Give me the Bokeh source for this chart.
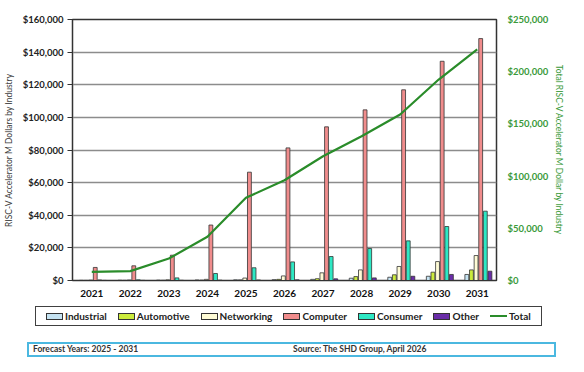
from bokeh.plotting import figure
from bokeh.models import (Range1d, LinearAxis, FactorRange, NumeralTickFormatter,
                          FixedTicker, Div)
from bokeh.transform import dodge
from bokeh.layouts import column
from bokeh.embed import file_html
from bokeh.resources import INLINE

# ---------------- data ----------------
years = ["2021", "2022", "2023", "2024", "2025", "2026", "2027", "2028", "2029", "2030", "2031"]
industrial = [100, 150, 200, 300, 400, 500, 700, 1400, 2000, 2600, 3700]
automotive = [50, 80, 120, 200, 350, 700, 1100, 2400, 3500, 5100, 6500]
networking = [200, 250, 400, 700, 1500, 2800, 4700, 6500, 8600, 11600, 15300]
computer = [8000, 9000, 15500, 34000, 66400, 81300, 94200, 104600, 116900, 134400, 148300]
consumer = [300, 400, 1600, 4300, 7800, 11400, 14700, 19600, 24300, 33100, 42500]
other = [50, 80, 120, 200, 300, 400, 1000, 1600, 2600, 3700, 5700]
total = [8300, 9000, 21000, 41900, 79200, 96000, 119000, 138200, 159000, 192500, 221300]

series_names = ["Industrial", "Automotive", "Networking", "Computer", "Consumer", "Other"]
total_name = "Total"
left_ticks = [0, 20000, 40000, 60000, 80000, 100000, 120000, 140000, 160000]
right_ticks = [0, 50000, 100000, 150000, 200000, 250000]
footer_left = "Forecast Years: 2025 - 2031"
footer_right = "Source: The SHD Group, April 2026"

# ---------------- styles ----------------
colors = ["#C5E3F2", "#CCEB3C", "#FFFCD6", "#F08C8C", "#2EE8C4", "#6A2DA8"]
offsets = [-0.27, -0.15, -0.03, 0.09, 0.21, 0.33]
green = "#2A8C2A"
font = "Lato"

data = dict(years=years, Industrial=industrial, Automotive=automotive,
            Networking=networking, Computer=computer, Consumer=consumer,
            Other=other, total=total)

p = figure(x_range=FactorRange(*years), y_range=Range1d(0, 160000),
           width=575, height=302, output_backend="svg", toolbar_location=None,
           min_border_left=71, min_border_right=79, min_border_top=19,
           min_border_bottom=22)
p.extra_y_ranges = {"total": Range1d(0, 250000)}

p.outline_line_color = "#333333"
p.outline_line_width = 1.5
p.xgrid.visible = False
p.ygrid.grid_line_color = "#8C8C8C"
p.ygrid.grid_line_width = 1.5

# left axis
ya = p.yaxis[0]
ya.ticker = FixedTicker(ticks=left_ticks)
ya.formatter = NumeralTickFormatter(format="$0,0")
ya.axis_label = "RISC-V Accelerator M Dollars by Industry"
ya.axis_label_text_font = font
ya.axis_label_text_font_style = "normal"
ya.axis_label_text_font_size = "8.5px"
ya.axis_label_text_color = "#404040"
ya.axis_label_standoff = 6
ya.major_label_text_font = font
ya.major_label_text_font_style = "bold"
ya.major_label_text_font_size = "9.5px"
ya.major_label_text_color = "#222222"
ya.major_label_standoff = 4
ya.major_tick_out = 5
ya.major_tick_in = 0
ya.minor_tick_out = 0
ya.minor_tick_in = 0
ya.axis_line_color = "#333333"
ya.major_tick_line_color = "#333333"

# x axis
xa = p.xaxis[0]
xa.major_label_text_font = font
xa.major_label_text_font_style = "bold"
xa.major_label_text_font_size = "10px"
xa.major_label_text_color = "#111111"
xa.major_tick_out = 0
xa.major_tick_in = 0
xa.major_label_standoff = 9
xa.axis_line_color = "#333333"

# right axis
ra = LinearAxis(y_range_name="total")
ra.ticker = FixedTicker(ticks=right_ticks)
ra.formatter = NumeralTickFormatter(format="$0,0")
ra.axis_label = "Total RISC-V Accelerator M Dollar by Industry"
ra.axis_label_text_font = font
ra.axis_label_text_font_style = "normal"
ra.axis_label_text_font_size = "8.5px"
ra.axis_label_text_color = "#3A9A3A"
ra.axis_label_standoff = 3
ra.major_label_text_font = font
ra.major_label_text_font_style = "bold"
ra.major_label_text_font_size = "9.5px"
ra.major_label_text_color = "#3A9A3A"
ra.major_label_standoff = 11
ra.major_tick_out = 0
ra.major_tick_in = 0
ra.minor_tick_out = 0
ra.minor_tick_in = 0
ra.axis_line_color = None
p.add_layout(ra, "right")

for name, col, off in zip(series_names, colors, offsets):
    p.vbar(x=dodge("years", off, range=p.x_range), top=name, width=0.1,
           source=data, fill_color=col, line_color="#333333", line_width=0.8)

p.line(x="years", y="total", source=data, y_range_name="total",
       line_color=green, line_width=2.2)

# ---------------- legend + footer (HTML below the chart) ----------------
item_html = ""
for name, col in zip(series_names, colors):
    item_html += (
        '<div style="display:flex;align-items:center;">'
        f'<span style="display:inline-block;width:17px;height:7px;box-sizing:border-box;'
        f'background:{col};border:1px solid #333;margin-right:2px;"></span>'
        f'<span>{name}</span></div>')
item_html += (
    '<div style="display:flex;align-items:center;">'
    f'<span style="display:inline-block;width:17px;height:2px;background:{green};'
    f'margin-right:2px;"></span><span>{total_name}</span></div>')

html = (
    f'<div style="position:relative;width:575px;height:60px;font-family:{font};">'
    '<div style="position:absolute;left:35px;top:4px;height:20px;box-sizing:border-box;'
    'border:1.5px solid #404040;display:flex;align-items:center;gap:11px;padding:0 10px;'
    'font-weight:bold;font-size:10px;color:#222;white-space:nowrap;line-height:12px;">'
    f'{item_html}</div>'
    '<div style="position:absolute;left:27px;top:40px;width:529px;height:15px;'
    'box-sizing:border-box;border:2px solid #4BB8E0;font-weight:bold;font-size:8.5px;'
    'color:#333;white-space:nowrap;line-height:11px;">'
    f'<span style="position:absolute;left:4px;top:0;">{footer_left}</span>'
    f'<span style="position:absolute;left:264px;top:0;">{footer_right}</span>'
    '</div></div>')

div = Div(text=html, width=575, height=60, margin=0)

layout = column(p, div, spacing=0)
open("out.html", "w").write(file_html(layout, INLINE))
